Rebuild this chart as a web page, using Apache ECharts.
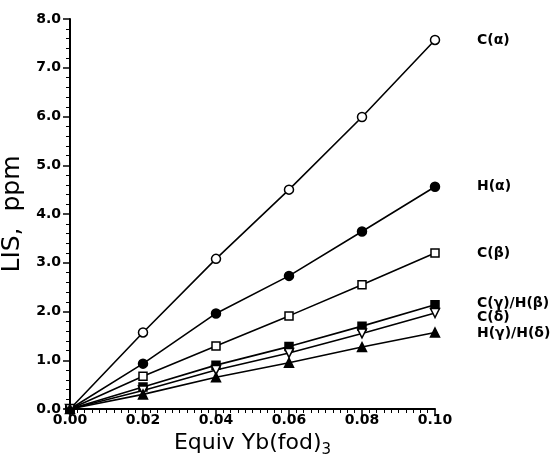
<!DOCTYPE html>
<html>
<head>
<meta charset="utf-8">
<script src="https://cdn.jsdelivr.net/npm/echarts@6/dist/echarts.min.js"></script>
<style>
  html, body { margin: 0; padding: 0; background: #fff; }
</style>
</head>
<body>
<div id="chart" style="width:558px;height:457px;"></div>
<script>
// equivalents of Yb(fod)3
const equiv = [0, 0.02, 0.04, 0.06, 0.08, 0.10];

// LIS values (ppm)
const cAlpha = [0, 1.57, 3.08, 4.50, 5.99, 7.57];
const hAlpha = [0, 0.93, 1.96, 2.73, 3.64, 4.56];
const cBeta = [0, 0.67, 1.29, 1.91, 2.55, 3.20];
const cGammaHBeta = [0, 0.45, 0.90, 1.28, 1.70, 2.14];
const cDelta = [0, 0.38, 0.80, 1.15, 1.55, 1.97];
const hGammaHDelta = [0, 0.30, 0.65, 0.95, 1.27, 1.57];

const names = ['C(α)', 'H(α)', 'C(β)', 'C(γ)/H(β)', 'C(δ)', 'H(γ)/H(δ)'];

let chart = echarts.init(document.getElementById('chart'));

function pairs(ys) {
  return equiv.map((x, i) => [x, ys[i]]);
}

// 通用系列配置
function makeSeries(name, ys, symbol, filled, labelDy, rotate) {
  return {
    name: name,
    type: 'line',
    data: pairs(ys),
    symbol: symbol,
    symbolSize: symbol === 'rect' ? 8 : 9,
    symbolRotate: rotate || 0,
    showAllSymbol: true,
    lineStyle: {color: '#000', width: 1.6},
    itemStyle: {
      color: filled ? '#000' : '#fff',
      borderColor: '#000',
      borderWidth: 1.5
    },
    endLabel: {
      show: true,
      formatter: name,
      color: '#000',
      fontFamily: 'DejaVu Sans',
      fontWeight: 'bold',
      fontSize: 14,
      distance: 42,
      offset: [0, labelDy || 0]
    },
    z: 3
  };
}

let option = {
  animation: false,
  grid: {left: 70, right: 123, top: 19, bottom: 48, outerBoundsMode: 'none', containLabel: false},
  xAxis: {
    type: 'value',
    min: 0,
    max: 0.1,
    interval: 0.02,
    name: 'Equiv Yb(fod){s|3}',
    nameLocation: 'middle',
    nameGap: 17,
    nameTextStyle: {
      fontFamily: 'DejaVu Sans',
      fontSize: 22,
      color: '#000',
      rich: {s: {fontSize: 15, verticalAlign: 'bottom', padding: [14, 0, 0, 0], fontFamily: 'DejaVu Sans', color: '#000'}}
    },
    axisLine: {lineStyle: {color: '#000', width: 2}},
    axisTick: {show: true, length: 7, lineStyle: {color: '#000', width: 1.5}},
    minorTick: {show: true, splitNumber: 10, length: 4, lineStyle: {color: '#000', width: 1}},
    splitLine: {show: false},
    axisLabel: {
      formatter: v => v.toFixed(2),
      color: '#000',
      fontFamily: 'DejaVu Sans',
      fontWeight: 'bold',
      fontSize: 14,
      margin: 4
    }
  },
  yAxis: {
    type: 'value',
    min: 0,
    max: 8,
    interval: 1,
    name: 'LIS,  ppm',
    nameLocation: 'middle',
    nameGap: 34,
    nameTextStyle: {fontFamily: 'DejaVu Sans', fontSize: 25, color: '#000'},
    axisLine: {show: true, lineStyle: {color: '#000', width: 2}},
    axisTick: {show: true, length: 7, lineStyle: {color: '#000', width: 1.5}},
    minorTick: {show: true, splitNumber: 5, length: 4, lineStyle: {color: '#000', width: 1}},
    splitLine: {show: false},
    axisLabel: {
      formatter: v => v.toFixed(1),
      color: '#000',
      fontFamily: 'DejaVu Sans',
      fontWeight: 'bold',
      fontSize: 14,
      margin: 9
    }
  },
  series: [
    makeSeries(names[0], cAlpha, 'circle', false, 0),
    makeSeries(names[1], hAlpha, 'circle', true, 0),
    makeSeries(names[2], cBeta, 'rect', false, 0),
    makeSeries(names[3], cGammaHBeta, 'rect', true, -1),
    makeSeries(names[4], cDelta, 'triangle', false, 4, 180),
    makeSeries(names[5], hGammaHDelta, 'triangle', true, 1)
  ]
};
chart.setOption(option);
</script>
</body>
</html>
